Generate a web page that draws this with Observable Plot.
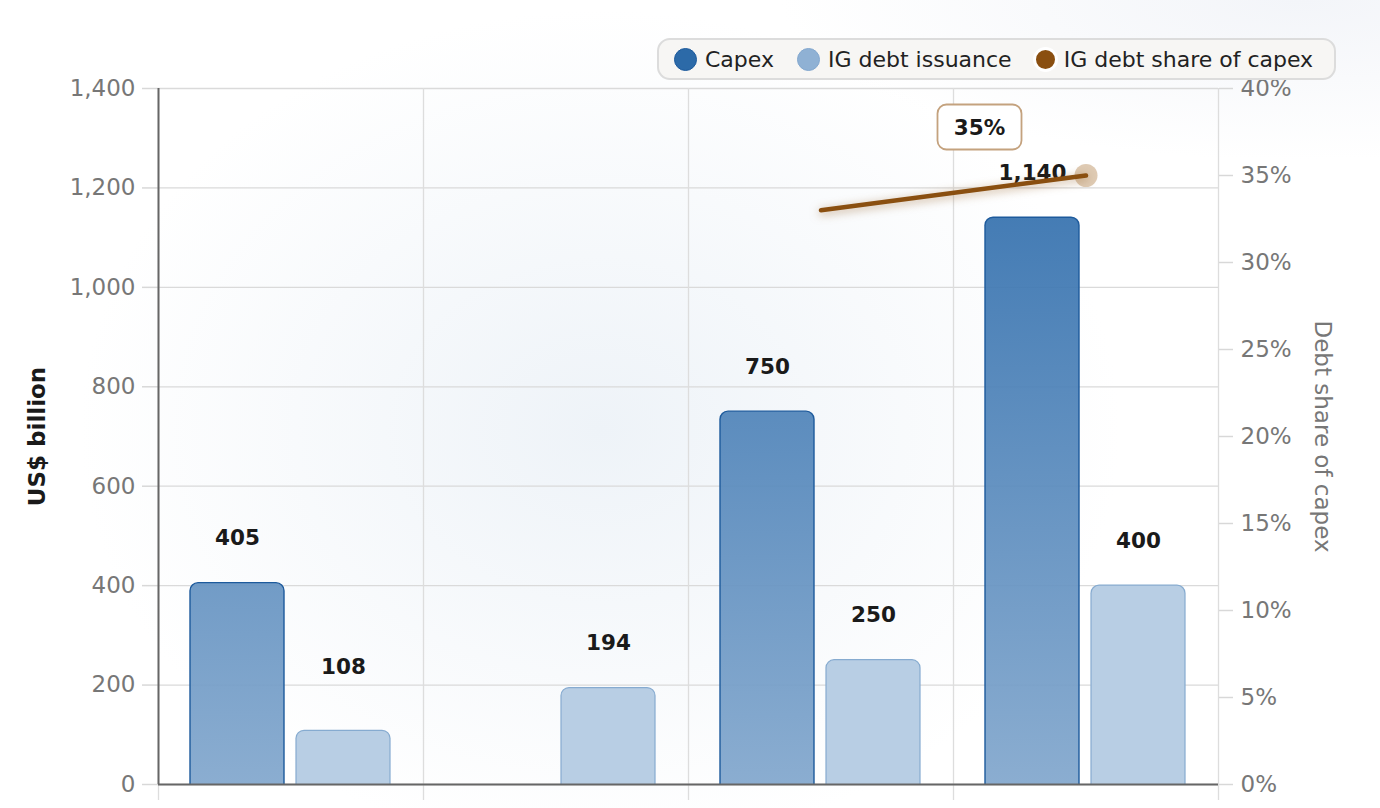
<!DOCTYPE html>
<html>
<head>
<meta charset="utf-8">
<script src="https://cdn.jsdelivr.net/npm/d3@7"></script>
<script src="https://cdn.jsdelivr.net/npm/@observablehq/plot@0.6"></script>
<style>
  html, body { margin: 0; padding: 0; overflow: hidden; }
  body {
    width: 1380px; height: 808px;
    font-family: "DejaVu Sans", sans-serif;
    background:
      radial-gradient(ellipse 520px 420px at 600px 430px, #eef3f8 0%, rgba(255,255,255,0) 100%),
      radial-gradient(ellipse 520px 160px at 1300px 0px, #f3f5f9 0%, rgba(255,255,255,0) 100%),
      #ffffff;
  }
  #wrap { position: relative; width: 1380px; height: 808px; }
  #chart svg { background: transparent !important; overflow: visible; }
  #legend {
    position: absolute; left: 657px; top: 38px; height: 42px;
    box-sizing: border-box; width: 679px;
    border: 2px solid #dcdcdc; border-radius: 13px; background: #f7f6f4;
    display: flex; align-items: center; padding-left: 15px;
    font-size: 22px; color: #222; white-space: nowrap; overflow: hidden;
  }
  .li { display: flex; align-items: center; margin-right: 23px; flex-shrink: 0; white-space: nowrap; }
  .sw { width: 23px; height: 23px; border-radius: 50%; margin-right: 8px; box-sizing: border-box; flex-shrink: 0; }
  [aria-label="line"] path { filter: drop-shadow(0px 2px 5px rgba(138,79,16,0.5)); }
</style>
</head>
<body>
<div id="wrap">
  <div id="chart"></div>
  <div id="legend">
    <div class="li"><div class="sw" style="background:#2c6aa8;border:1.5px solid #1d5a9c"></div>Capex</div>
    <div class="li"><div class="sw" style="background:#8fb1d4;border:1.5px solid #83a8cf"></div>IG debt issuance</div>
    <div class="li"><div class="sw" style="background:#8a4f10;border:3px solid #ffffff;width:25px;height:25px;margin-left:-2px;margin-right:6px"></div>IG debt share of capex</div>
  </div>
</div>
<script>
// ---- data ----
const groups = ["2023", "2024", "2025", "2026"];
const capex = [405, null, 750, 1140];
const igDebt = [108, 194, 250, 400];
const debtShare = [null, null, 33, 35]; // percent
const leftTicks = [0, 200, 400, 600, 800, 1000, 1200, 1400];
const rightTicks = [0, 5, 10, 15, 20, 25, 30, 35, 40];
const shareLabel = "35%";

const yMax = 1400, pctMax = 40;
const k = yMax / pctMax; // percent -> left-axis units

const rows = groups.map((g, i) => ({g, i, capex: capex[i], ig: igDebt[i], share: debtShare[i]}));
const capexRows = rows.filter(d => d.capex != null);
const shareRows = rows.filter(d => d.share != null);
const bounds = d3.range(groups.length + 1);
const fmt = d3.format(",");

const defs = () => {
  const s = d3.create("svg:defs");
  const g = s.append("linearGradient").attr("id", "capexGrad")
    .attr("gradientUnits", "userSpaceOnUse").attr("x1", 0).attr("x2", 0).attr("y1", 88).attr("y2", 784);
  g.append("stop").attr("offset", "0%").attr("stop-color", "#2566a8");
  g.append("stop").attr("offset", "100%").attr("stop-color", "#82a7cd");
  return s.node();
};

const chart = Plot.plot({
  width: 1380, height: 808,
  marginTop: 88, marginBottom: 24, marginLeft: 158, marginRight: 162,
  style: {fontFamily: "DejaVu Sans, sans-serif", background: "transparent", overflow: "visible"},
  x: {type: "linear", domain: [0, groups.length], axis: null},
  y: {domain: [0, yMax], axis: null},
  marks: [
    defs,
    Plot.ruleY(leftTicks, {stroke: "#dadada", strokeWidth: 1.3}),
    Plot.ruleX(bounds, {stroke: "#dddddd", strokeWidth: 1.3, insetBottom: -16}),
    Plot.axisY(leftTicks, {anchor: "left", tickSize: 16, tickPadding: 7, fontSize: 23, fill: "#777", stroke: "#d8d8d8", strokeWidth: 1.5, tickFormat: fmt, label: null}),
    Plot.axisY(rightTicks.map(p => p * k), {anchor: "right", tickSize: 14, tickPadding: 8, fontSize: 23, fill: "#777", stroke: "#d8d8d8", strokeWidth: 1.5, tickFormat: v => Math.round(v / k) + "%", label: null}),
    Plot.rectY(capexRows, {x1: "i", x2: d => d.i + 1, y: "capex", insetLeft: 32, insetRight: 139, insetBottom: -12, rx: 8, fill: "url(#capexGrad)", fillOpacity: 0.93, stroke: "#1d5a9c", strokeWidth: 1.4, clip: true}),
    Plot.rectY(rows, {x1: "i", x2: d => d.i + 1, y: "ig", insetLeft: 138, insetRight: 33, insetBottom: -12, rx: 8, fill: "#b8cee4", stroke: "#86abd0", strokeWidth: 1.2, clip: true}),
    Plot.ruleX([0], {stroke: "#666", strokeWidth: 2}),
    Plot.ruleY([0], {stroke: "#666", strokeWidth: 2}),
    Plot.text(capexRows, {x: "i", y: "capex", text: d => fmt(d.capex), dx: 79, dy: -45, fontSize: 21.5, fontWeight: "bold", fill: "#1a1a1a"}),
    Plot.text(rows.filter(d => d.ig >= 150), {x: "i", y: "ig", text: d => fmt(d.ig), dx: 185, dy: -45, fontSize: 21.5, fontWeight: "bold", fill: "#1a1a1a"}),
    Plot.text(rows.filter(d => d.ig < 150), {x: "i", y: "ig", text: d => fmt(d.ig), dx: 185, dy: -64, fontSize: 21.5, fontWeight: "bold", fill: "#1a1a1a"}),
    Plot.dot(shareRows.slice(-1), {x: d => d.i + 0.5, y: d => d.share * k, r: 11.5, fill: "#c9a882", fillOpacity: 0.6}),
    Plot.line(shareRows, {x: d => d.i + 0.5, y: d => d.share * k, stroke: "#8a4f10", strokeWidth: 4.5}),
    Plot.text(["US$ billion"], {frameAnchor: "left", textAnchor: "middle", rotate: -90, dx: -121, fontSize: 23, fontWeight: "bold", fill: "#1a1a1a"}),
    Plot.text(["Debt share of capex"], {frameAnchor: "right", textAnchor: "middle", rotate: 90, dx: 104, fontSize: 23, fill: "#777"})
  ]
});
document.getElementById("chart").append(chart);

// annotation box for the last share value
const sx = chart.scale("x"), sy = chart.scale("y");
const last = shareRows[shareRows.length - 1];
const px = sx.apply(last.i + 0.5), py = sy.apply(last.share * k);
const svg = d3.select(chart);
const ann = svg.append("g");
const cx = px - 106, cy = py - 48;
ann.append("rect").attr("x", cx - 42).attr("y", cy - 22.5).attr("width", 84).attr("height", 45)
  .attr("rx", 9).attr("fill", "#ffffff").attr("stroke", "#c4a27e").attr("stroke-width", 1.8);
ann.append("text").attr("x", cx).attr("y", cy).attr("dy", "0.36em").attr("text-anchor", "middle")
  .attr("font-size", 21.5).attr("font-weight", "bold").attr("fill", "#1a1a1a")
  .attr("font-family", "DejaVu Sans, sans-serif").text(shareLabel);
</script>
</body>
</html>
